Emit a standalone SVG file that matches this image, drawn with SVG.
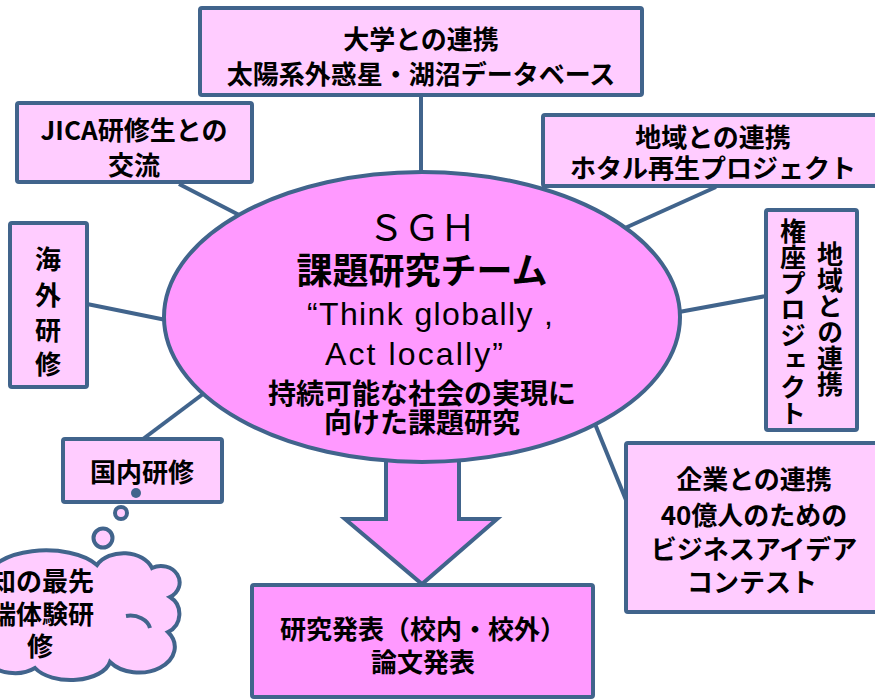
<svg xmlns="http://www.w3.org/2000/svg" width="875" height="700" viewBox="0 0 875 700">
<style>
.box{fill:#FFCCFF;stroke:#41648C;stroke-width:4}
.main{fill:#FF99FF;stroke:#41648C;stroke-width:4}
.ln{stroke:#41648C;stroke-width:4;fill:none}
.t{font-family:"Noto Sans CJK JP","Noto Sans",sans-serif;font-weight:bold;font-size:26px;fill:#000;text-anchor:middle;dominant-baseline:central}
.v{font-family:"Noto Sans CJK JP",sans-serif;font-weight:bold;font-size:26px;fill:#000;writing-mode:vertical-rl;text-anchor:start}
.lat{font-family:"Liberation Sans",Arial,sans-serif;font-size:32px;fill:#000}
</style>
<rect width="875" height="700" fill="#fff"/>
<g id="connectors">
<line class="ln" x1="421" y1="95" x2="421" y2="174"/>
<line class="ln" x1="179" y1="184" x2="243" y2="217"/>
<line class="ln" x1="87" y1="304" x2="166" y2="320"/>
<line class="ln" x1="143" y1="439" x2="203" y2="394"/>
<line class="ln" x1="625" y1="228" x2="716" y2="187"/>
<line class="ln" x1="679" y1="312" x2="766" y2="296"/>
<line class="ln" x1="595" y1="424" x2="626" y2="500"/>
</g>
<g id="arrow">
<polygon class="main" points="386,440 459,440 459,519 497,519 422,584 345,519 386,519"/>
</g>
<g id="center">
<ellipse class="main" cx="422" cy="317" rx="258" ry="145"/>
<text class="t" x="422" y="225" style="font-size:36px;font-weight:normal">ＳＧＨ</text>
<text class="t" x="422" y="268" style="font-size:36px">課題研究チーム</text>
<text class="lat" x="307" y="325" textLength="246" lengthAdjust="spacing">“Think globally ,</text>
<text class="lat" x="325" y="365" textLength="178" lengthAdjust="spacing">Act locally”</text>
<text class="t" x="422" y="392" style="font-size:28px">持続可能な社会の実現に</text>
<text class="t" x="422" y="421" style="font-size:28px">向けた課題研究</text>
</g>
<g id="univ">
<rect class="box" x="200" y="8" width="442" height="87" rx="2"/>
<text class="t" x="421" y="37">大学との連携</text>
<text class="t" x="421" y="72">太陽系外惑星・湖沼データベース</text>
</g>
<g id="jica">
<rect class="box" x="17" y="103" width="235" height="79" rx="2"/>
<text class="t" x="134" y="128">JICA研修生との</text>
<text class="t" x="134" y="163">交流</text>
</g>
<g id="kaigai">
<rect class="box" x="10" y="223" width="77" height="164" rx="2"/>
<text class="t" x="48" y="257">海</text>
<text class="t" x="48" y="293">外</text>
<text class="t" x="48" y="328">研</text>
<text class="t" x="48" y="362">修</text>
</g>
<g id="kokunai">
<rect class="box" x="63" y="439" width="159" height="63" rx="2"/>
<text class="t" x="142" y="470">国内研修</text>
</g>
<g id="cloud">
<path class="box" d="M -12,578 A 58,28 0 0 1 97,565 A 30,22 0 0 1 152,568 A 18,16 0 0 1 170,597 A 20,20 0 0 1 168,632 A 35,25 0 0 1 110,662 A 40,22 0 0 1 35,668 A 30,20 0 0 1 -12,662 Z"/>
<path class="ln" d="M126,616 A 20,15 0 0 1 150,628"/>
<circle class="box" cx="103" cy="538" r="9.5"/>
<circle class="box" cx="121" cy="513" r="6"/>
<circle cx="136" cy="493" r="5" fill="#41648C"/>
<text class="t" x="94" y="579" style="text-anchor:end">知の最先</text>
<text class="t" x="94" y="612" style="text-anchor:end">端体験研</text>
<text class="t" x="40" y="644">修</text>
</g>
<g id="hotaru">
<rect class="box" x="543" y="115" width="345" height="71" rx="2"/>
<text class="t" x="713" y="135">地域との連携</text>
<text class="t" x="713" y="166">ホタル再生プロジェクト</text>
</g>
<g id="gonza">
<rect class="box" x="766" y="210" width="91" height="220" rx="2"/>
<text class="v" x="830" y="241">地域との連携</text>
<text class="v" x="793" y="218">権座プロジェクト</text>
</g>
<g id="kigyo">
<rect class="box" x="626" y="443" width="262" height="169" rx="2"/>
<text class="t" x="754" y="477">企業との連携</text>
<text class="t" x="754" y="513">40億人のための</text>
<text class="t" x="754" y="547">ビジネスアイデア</text>
<text class="t" x="752" y="580">コンテスト</text>
</g>
<g id="happyo">
<rect class="main" x="252" y="585" width="341" height="112" rx="2"/>
<text class="t" x="423" y="627">研究発表（校内・校外）</text>
<text class="t" x="423" y="660">論文発表</text>
</g>
</svg>
